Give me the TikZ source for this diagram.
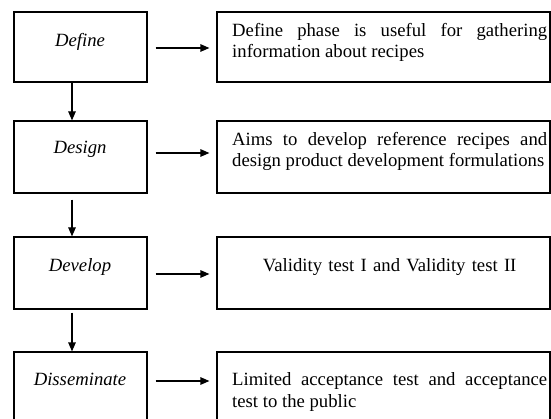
\documentclass[tikz,border=0pt]{standalone}
\usepackage{fontspec}
\setmainfont{Liberation Serif}
\usetikzlibrary{arrows.meta}
\newcommand{\nohyph}{\hyphenpenalty=10000\relax\tolerance=10000\relax}
\tikzset{
  box/.style={draw, line width=1.2pt, inner sep=0pt},
  lbox/.style={box, minimum width=133pt},
  rbox/.style={box, minimum width=333pt},
  lab/.style={anchor=base, inner sep=0pt, font=\fontsize{18.7}{21.5}\selectfont\itshape},
  desc/.style={anchor=base west, inner sep=0pt, text width=315pt, align=justify,
    font=\fontsize{18.7}{21.5}\selectfont\nohyph},
  descc/.style={desc, align=center},
  arr/.style={line width=1.2pt, -{Triangle[length=9pt,width=7.5pt]}}
}
\begin{document}
\begin{tikzpicture}[x=1pt,y=-1pt]
\useasboundingbox (0,0) rectangle (551,419);
\clip (0,0) rectangle (551,419);
% left boxes
\node[lbox, minimum height=70pt] (L1) at (80.5,47) {};
\node[lbox, minimum height=72pt] (L2) at (80.5,157) {};
\node[lbox, minimum height=72pt] (L3) at (80.5,273) {};
\node[lbox, minimum height=72pt] (L4) at (80.5,388) {};
% right boxes
\node[rbox, minimum height=70pt] (R1) at (383.5,47) {};
\node[rbox, minimum height=72pt] (R2) at (383.5,157) {};
\node[rbox, minimum height=72pt] (R3) at (383.5,273) {};
\node[rbox, minimum height=72pt] (R4) at (383.5,388) {};
% left labels
\node[lab] (t1) at (80,47) {Define};
\node[lab] (t2) at (80,154) {Design};
\node[lab] (t3) at (80,272) {Develop};
\node[lab] (t4) at (80,385) {Disseminate};
% right texts
\node[desc] (d1) at (232,36.5) {Define phase is useful for gathering\linebreak information about recipes};
\node[desc] (d2) at (232,145.5) {Aims to develop reference recipes and\linebreak design product development formulations};
\node[descc] (d3) at (232,271.5) {Validity test I and Validity test II};
\node[desc] (d4) at (232,385.5) {Limited acceptance test and acceptance\linebreak test to the public};
% horizontal arrows
\draw[arr] ([xshift=8pt,yshift=-1pt]L1.east) -- ([xshift=-7pt,yshift=-1pt]R1.west);
\draw[arr] ([xshift=8pt,yshift=4pt]L2.east) -- ([xshift=-7pt,yshift=4pt]R2.west);
\draw[arr] ([xshift=8pt,yshift=-1pt]L3.east) -- ([xshift=-7pt,yshift=-1pt]R3.west);
\draw[arr] ([xshift=8pt,yshift=7pt]L4.east) -- ([xshift=-7pt,yshift=7pt]R4.west);
% vertical arrows
\draw[arr] ([xshift=-8.5pt]L1.south) -- ([xshift=-8.5pt]L2.north);
\draw[arr, shorten <=6pt] ([xshift=-8.5pt]L2.south) -- ([xshift=-8.5pt]L3.north);
\draw[arr, shorten <=3pt] ([xshift=-8.5pt]L3.south) -- ([xshift=-8.5pt]L4.north);
\end{tikzpicture}
\end{document}
